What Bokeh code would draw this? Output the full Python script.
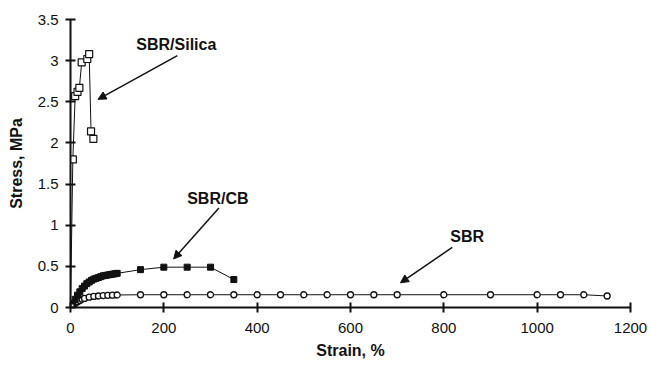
from bokeh.plotting import figure
from bokeh.models import Range1d, Label, Arrow, NormalHead, FixedTicker
from bokeh.embed import file_html
from bokeh.resources import INLINE

# ---- data ----
silica_strain = [0, 5, 10, 15, 19, 24, 36, 40, 44, 49]
silica_stress = [0, 1.80, 2.57, 2.62, 2.67, 2.98, 3.02, 3.08, 2.14, 2.05]

cb_strain = [0, 5, 10, 15, 20, 25, 30, 35, 40, 45, 50, 55, 60, 65, 70, 75, 80, 85,
             90, 95, 100, 150, 200, 250, 300, 350]
cb_stress = [0, 0.05, 0.10, 0.15, 0.19, 0.23, 0.26, 0.29, 0.31, 0.33, 0.345, 0.355,
             0.365, 0.375, 0.385, 0.39, 0.395, 0.40, 0.405, 0.41, 0.415, 0.46, 0.49,
             0.49, 0.49, 0.34]

sbr_strain = [0, 5, 10, 15, 20, 25, 30, 40, 50, 60, 70, 80, 90, 100, 150, 200, 250,
              300, 350, 400, 450, 500, 550, 600, 650, 700, 800, 900, 1000, 1050,
              1100, 1150]
sbr_stress = [0, 0.03, 0.05, 0.07, 0.085, 0.10, 0.11, 0.125, 0.135, 0.14, 0.145,
              0.148, 0.15, 0.152, 0.155, 0.155, 0.155, 0.155, 0.155, 0.155, 0.155,
              0.155, 0.155, 0.155, 0.155, 0.155, 0.155, 0.155, 0.155, 0.155, 0.155,
              0.14]

x_ticks = [0, 200, 400, 600, 800, 1000, 1200]
y_ticks = [0, 0.5, 1, 1.5, 2, 2.5, 3, 3.5]
y_tick_labels = ["0", "0.5", "1", "1.5", "2", "2.5", "3", "3.5"]

# annotations: (text, text x, text y, arrow tail x, tail y, tip x, tip y)
notes = [
    ("SBR/Silica", 141, 3.20, 229, 3.06, 59, 2.53),
    ("SBR/CB", 250, 1.32, 318, 1.21, 221, 0.59),
    ("SBR", 814, 0.86, 818, 0.73, 707, 0.30),
]

FONT = "Liberation Sans"
INK = "#111111"

p = figure(width=650, height=368, x_range=Range1d(0, 1200), y_range=Range1d(0, 3.5),
           output_backend="svg", toolbar_location=None,
           min_border_left=70, min_border_right=20, min_border_top=19,
           min_border_bottom=61)
p.outline_line_color = None
p.xgrid.visible = False
p.ygrid.visible = False
p.background_fill_color = "white"
p.border_fill_color = "white"

for ax in (p.xaxis[0], p.yaxis[0]):
    ax.axis_line_color = INK
    ax.axis_line_width = 2
    ax.major_tick_line_color = INK
    ax.major_tick_line_width = 2
    ax.major_tick_in = 5
    ax.major_tick_out = 5
    ax.minor_tick_line_color = None
    ax.major_label_text_font = FONT
    ax.major_label_text_font_size = "15px"
    ax.major_label_text_color = INK
    ax.axis_label_text_font = FONT
    ax.axis_label_text_font_size = "16px"
    ax.axis_label_text_font_style = "bold"
    ax.axis_label_text_color = INK

p.xaxis.ticker = FixedTicker(ticks=x_ticks)
p.yaxis.ticker = FixedTicker(ticks=y_ticks)
p.yaxis.major_label_overrides = {t: l for t, l in zip(y_ticks, y_tick_labels)}
p.xaxis.axis_label = "Strain, %"
p.yaxis.axis_label = "Stress, MPa"
p.xaxis.major_label_standoff = 10
p.yaxis.major_label_standoff = 7
p.xaxis.axis_label_standoff = 6
p.yaxis.axis_label_standoff = 10

# series
p.line(sbr_strain, sbr_stress, line_color=INK, line_width=1)
p.scatter(sbr_strain, sbr_stress, marker="circle", size=6, fill_color="white",
          line_color=INK, line_width=1.3)

p.line(cb_strain, cb_stress, line_color=INK, line_width=1)
p.scatter(cb_strain, cb_stress, marker="square", size=6, fill_color=INK,
          line_color=INK, line_width=1)

p.line(silica_strain, silica_stress, line_color=INK, line_width=1)
p.scatter(silica_strain, silica_stress, marker="square", size=7, fill_color="white",
          line_color=INK, line_width=1.2)

for text, tx, ty, ax0, ay0, ax1, ay1 in notes:
    p.add_layout(Label(x=tx, y=ty, text=text, text_font=FONT, text_font_size="16px",
                       text_font_style="bold", text_color=INK,
                       text_baseline="middle", text_align="left"))
    p.add_layout(Arrow(x_start=ax0, y_start=ay0, x_end=ax1, y_end=ay1,
                       line_color=INK, line_width=1.5,
                       end=NormalHead(size=8, fill_color=INK, line_color=INK)))

open("out.html", "w").write(file_html(p, INLINE))
